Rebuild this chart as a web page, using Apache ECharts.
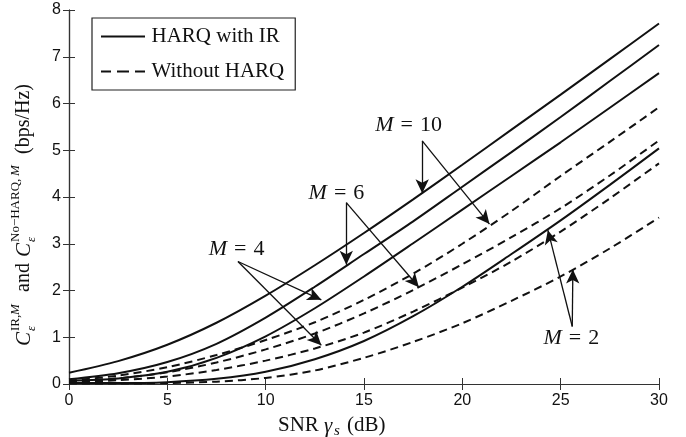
<!DOCTYPE html>
<html><head><meta charset="utf-8">
<script src="https://cdn.jsdelivr.net/npm/echarts@6/dist/echarts.min.js"></script>
<style>html,body{margin:0;padding:0;background:#fff}#c{width:686px;height:437px}</style>
</head><body><div id="c"></div>
<script>
// SNR (dB) sample points
const snr = [0, 2.5, 5, 7.5, 10, 12.5, 15, 17.5, 20, 22.5, 25, 27.5, 30];
// HARQ with IR (solid)
const irM10 = [0.24, 0.49, 0.84, 1.31, 1.89, 2.54, 3.23, 3.95, 4.69, 5.44, 6.19, 6.95, 7.71];
const irM6  = [0.10, 0.23, 0.47, 0.86, 1.42, 2.08, 2.78, 3.48, 4.22, 4.96, 5.71, 6.48, 7.25];
const irM4  = [0.07, 0.12, 0.26, 0.56, 1.02, 1.62, 2.30, 3.01, 3.73, 4.45, 5.17, 5.91, 6.65];
const irM2  = [0.02, 0.02, 0.04, 0.11, 0.26, 0.53, 0.92, 1.45, 2.08, 2.78, 3.50, 4.26, 5.04];
// Without HARQ (dashed)
const noM10 = [0.07, 0.18, 0.36, 0.62, 0.94, 1.32, 1.80, 2.36, 3.00, 3.70, 4.45, 5.18, 5.92];
const noM6  = [0.05, 0.12, 0.25, 0.46, 0.74, 1.08, 1.51, 2.01, 2.56, 3.14, 3.76, 4.46, 5.21];
const noM4  = [0.04, 0.08, 0.16, 0.30, 0.50, 0.76, 1.10, 1.55, 2.06, 2.62, 3.26, 3.97, 4.72];
const noM2  = [0.01, 0.01, 0.02, 0.05, 0.13, 0.29, 0.56, 0.90, 1.30, 1.78, 2.30, 2.90, 3.56];
// tick labels
const xTicks = [0, 5, 10, 15, 20, 25, 30];
const yTicks = [0, 1, 2, 3, 4, 5, 6, 7, 8];
// annotations (data coordinates)
const annM = ['10', '6', '4', '2'];
const annText = [[17.27, 5.53], [13.6, 4.08], [8.52, 2.89], [25.54, 0.97]];
const annApex = [[17.96, 5.20], [14.10, 3.88], [8.59, 2.62], [25.59, 1.23]];
const annTipSolid = [[17.96, 4.08], [14.10, 2.55], [12.83, 1.80], [24.35, 3.29]];
const annTipDashed = [[21.38, 3.42], [17.79, 2.07], [12.83, 0.83], [25.62, 2.45]];

const INK = '#111';
const SERIF = '"Liberation Serif", "DejaVu Serif", serif';
const SANS = '"Liberation Sans", Arial, sans-serif';

const chart = echarts.init(document.getElementById('c'), null, {renderer: 'canvas'});

function mk(name, arr, dashed) {
  return {
    name, type: 'line', symbol: 'none', showSymbol: false,
    smooth: 0.3,
    data: snr.map((x, i) => [x, arr[i]]),
    lineStyle: {color: INK, width: 2, type: dashed ? [8, 5] : 'solid'},
    itemStyle: {color: INK},
    z: 3, silent: true
  };
}

const arrowLines = [];
for (let i = 0; i < annM.length; i++) {
  arrowLines.push([{coord: annApex[i]}, {coord: annTipSolid[i]}]);
  arrowLines.push([{coord: annApex[i]}, {coord: annTipDashed[i]}]);
}

const axisCommon = {
  type: 'value',
  axisLine: {show: true, lineStyle: {color: '#333', width: 1.2}},
  axisTick: {show: true, inside: true, length: 6, lineStyle: {color: '#333', width: 1}},
  splitLine: {show: false}
};

const option = {
  backgroundColor: '#fff',
  animation: false,
  grid: {left: 69, right: 27, top: 10, bottom: 53, outerBoundsMode: 'none', containLabel: false},
  xAxis: [
    Object.assign({}, axisCommon, {
      min: 0, max: 30, interval: 5, position: 'bottom',
      axisLabel: {color: INK, fontFamily: SANS, fontSize: 16, margin: 9,
        formatter: v => xTicks.includes(v) ? String(v) : ''}
    }),
    Object.assign({}, axisCommon, {
      min: 0, max: 30, interval: 5, position: 'top', axisLabel: {show: false}
    })
  ],
  yAxis: [
    Object.assign({}, axisCommon, {
      min: 0, max: 8, interval: 1, position: 'left',
      axisLabel: {color: INK, fontFamily: SANS, fontSize: 16, margin: 8,
        formatter: v => yTicks.includes(v) ? String(v) : ''}
    }),
    Object.assign({}, axisCommon, {
      min: 0, max: 8, interval: 1, position: 'right', axisLabel: {show: false}
    })
  ],
  legend: {
    data: [
      {name: 'HARQ with IR', icon: 'path://M0,0H44V2H0Z'},
      {name: 'Without HARQ', icon: 'path://M0,0H10V2H0Z M16,0H28V2H16Z M34,0H44V2H34Z'}
    ],
    orient: 'vertical', left: 92, top: 18,
    itemWidth: 45, itemHeight: 2, itemGap: 14,
    itemStyle: {color: INK, borderWidth: 0},
    padding: [8, 11, 8, 9],
    borderColor: '#222', borderWidth: 1.2, backgroundColor: '#fff',
    textStyle: {fontFamily: SERIF, fontSize: 21, color: INK, padding: [0, 0, 0, 1]},
    selectedMode: false
  },
  series: [
    mk('HARQ with IR', irM10, false),
    mk('HARQ with IR', irM6, false),
    mk('HARQ with IR', irM4, false),
    mk('HARQ with IR', irM2, false),
    mk('Without HARQ', noM10, true),
    mk('Without HARQ', noM6, true),
    mk('Without HARQ', noM4, true),
    mk('Without HARQ', noM2, true),
    {
      name: 'annotations', type: 'line', data: [], silent: true, z: 5,
      markLine: {
        silent: true, animation: false,
        symbol: ['none', 'arrow'], symbolSize: [10, 14],
        lineStyle: {color: INK, width: 1.3, type: 'solid'},
        label: {show: false},
        emphasis: {disabled: true},
        data: arrowLines
      },
      markPoint: {
        silent: true, animation: false,
        symbol: 'circle', symbolSize: 0,
        label: {
          show: true, position: 'inside', color: INK,
          formatter: p => '{i|M}{e|=}{n|' + p.value + '}',
          rich: {
            i: {fontFamily: SERIF, fontStyle: 'italic', fontSize: 22, color: INK},
            e: {fontFamily: SERIF, fontSize: 22, color: INK, padding: [0, 7]},
            n: {fontFamily: SERIF, fontSize: 22, color: INK}
          }
        },
        data: annText.map((c, i) => ({coord: c, value: annM[i]}))
      }
    }
  ],
  graphic: [
    {
      type: 'group', x: 24, y: 346, rotation: Math.PI / 2, silent: true,
      children: [
        {type: 'text', x: 0, y: 0, style: {text: 'C', font: 'italic 21px ' + SERIF, fill: INK, verticalAlign: 'middle'}},
        {type: 'text', x: 15, y: -8, style: {text: 'IR,', font: '13px ' + SERIF, fill: INK, verticalAlign: 'middle'}},
        {type: 'text', x: 31, y: -8, style: {text: 'M', font: 'italic 13px ' + SERIF, fill: INK, verticalAlign: 'middle'}},
        {type: 'text', x: 15, y: 8, style: {text: 'ε', font: 'italic 13px ' + SERIF, fill: INK, verticalAlign: 'middle'}},
        {type: 'text', x: 54, y: 0, style: {text: 'and', font: '20px ' + SERIF, fill: INK, verticalAlign: 'middle'}},
        {type: 'text', x: 89, y: 0, style: {text: 'C', font: 'italic 21px ' + SERIF, fill: INK, verticalAlign: 'middle'}},
        {type: 'text', x: 104, y: -8, style: {text: 'No−HARQ,', font: '13px ' + SERIF, fill: INK, verticalAlign: 'middle'}},
        {type: 'text', x: 170, y: -8, style: {text: 'M', font: 'italic 13px ' + SERIF, fill: INK, verticalAlign: 'middle'}},
        {type: 'text', x: 104, y: 8, style: {text: 'ε', font: 'italic 13px ' + SERIF, fill: INK, verticalAlign: 'middle'}},
        {type: 'text', x: 192, y: 0, style: {text: '(bps/Hz)', font: '20px ' + SERIF, fill: INK, verticalAlign: 'middle'}}
      ]
    },
    {
      type: 'group', x: 278, y: 425, silent: true,
      children: [
        {type: 'text', x: 0, y: 0, style: {text: 'SNR', font: '21px ' + SERIF, fill: INK, verticalAlign: 'middle'}},
        {type: 'text', x: 46, y: 1, style: {text: 'γ', font: 'italic 21px ' + SERIF, fill: INK, verticalAlign: 'middle'}},
        {type: 'text', x: 56, y: 6, style: {text: 's', font: 'italic 15px ' + SERIF, fill: INK, verticalAlign: 'middle'}},
        {type: 'text', x: 69, y: 0, style: {text: '(dB)', font: '21px ' + SERIF, fill: INK, verticalAlign: 'middle'}}
      ]
    }
  ]
};
chart.setOption(option);
</script>
</body></html>
